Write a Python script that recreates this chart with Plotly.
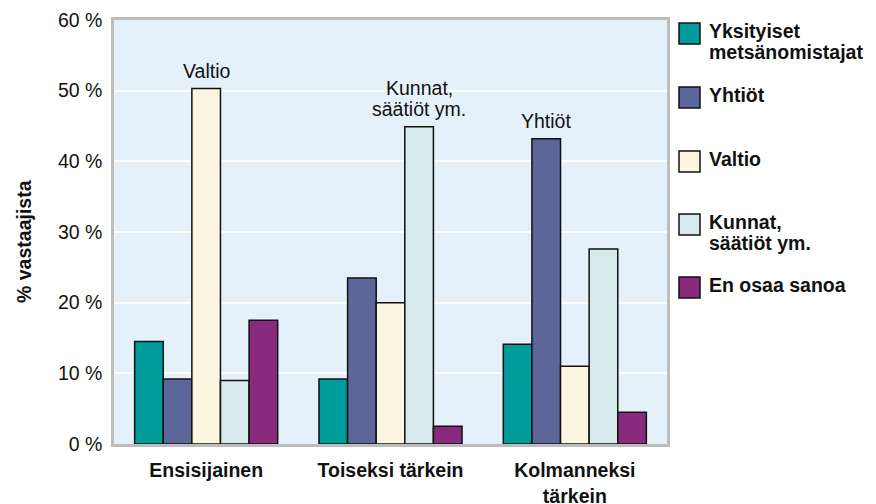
import plotly.graph_objects as go

categories = ["Ensisijainen", "Toiseksi tärkein", "Kolmanneksi<br>tärkein"]
series_names = ["Yksityiset<br>metsänomistajat", "Yhtiöt", "Valtio", "Kunnat,<br>säätiöt ym.", "En osaa sanoa"]
values = {
    "Yksityiset<br>metsänomistajat": [14.5, 9.2, 14.1],
    "Yhtiöt": [9.2, 23.5, 43.2],
    "Valtio": [50.3, 20.0, 11.0],
    "Kunnat,<br>säätiöt ym.": [9.0, 44.9, 27.6],
    "En osaa sanoa": [17.5, 2.5, 4.5],
}
colors = ["#009B9B", "#5C6699", "#FCF6E1", "#D6EAEB", "#8A2A7E"]
top_labels = ["Valtio", "Kunnat,<br>säätiöt ym.", "Yhtiöt"]
top_label_series = ["Valtio", "Kunnat,<br>säätiöt ym.", "Yhtiöt"]
y_ticks = [0, 10, 20, 30, 40, 50, 60]
y_tick_text = ["0 %", "10 %", "20 %", "30 %", "40 %", "50 %", "60 %"]
y_title = "% vastaajista"

FONT = "Liberation Sans, Arial, sans-serif"
FS = 19.5
W, H = 876, 504
L, R, T, B = 114, 209, 20, 60
pw, ph = W - L - R, H - T - B
PITCH = 21

fig = go.Figure()
for name, col in zip(series_names, colors):
    fig.add_trace(go.Bar(
        x=categories, y=values[name], name=name,
        marker=dict(color=col, line=dict(color="#111111", width=1.5)),
        showlegend=False,
    ))

# labels above the tallest bar of each group
n = len(series_names)
gap = 0.224
for ci, (lab, sname) in enumerate(zip(top_labels, top_label_series)):
    si = series_names.index(sname)
    offset = -(1 - gap) / 2 + (1 - gap) / n * (si + 0.5)
    lines = lab.split("<br>")
    for li, line in enumerate(lines):
        fig.add_annotation(
            x=ci + offset, y=values[sname][ci], xref="x", yref="y",
            text=line, showarrow=False, yanchor="bottom",
            yshift=5 + PITCH * (len(lines) - 1 - li),
            font=dict(family=FONT, size=FS, color="#111111"),
        )

# custom legend with larger swatches
def px_x(p):
    return (p - L) / pw

def px_y(p):
    return (H - B - p) / ph

sq_tops = [23, 87, 151, 214, 277]
for name, col, top in zip(series_names, colors, sq_tops):
    fig.add_shape(type="rect", xref="paper", yref="paper",
                  x0=px_x(679), x1=px_x(700), y0=px_y(top), y1=px_y(top + 21),
                  fillcolor=col, line=dict(color="#111111", width=1.5))
    for li, line in enumerate(name.split("<br>")):
        fig.add_annotation(xref="paper", yref="paper", x=px_x(707),
                           y=px_y(top - 5 + PITCH * li),
                           xanchor="left", yanchor="top", align="left", showarrow=False,
                           text="<b>" + line + "</b>",
                           font=dict(family=FONT, size=FS, color="#111111"))

# y-axis title
fig.add_annotation(xref="paper", yref="paper", x=px_x(24), y=px_y(242),
                   xanchor="center", yanchor="middle", textangle=-90, showarrow=False,
                   text="<b>" + y_title + "</b>",
                   font=dict(family=FONT, size=FS, color="#111111"))

fig.update_layout(
    width=W, height=H,
    margin=dict(l=L, r=R, t=T, b=B, autoexpand=False),
    paper_bgcolor="white", plot_bgcolor="#E4F1FB",
    barmode="group", bargap=gap, bargroupgap=0,
    font=dict(family=FONT, size=FS, color="#111111"),
)
fig.update_xaxes(
    showline=True, linecolor="#BDBDBD", linewidth=2.5, mirror=True,
    tickfont=dict(family=FONT, size=FS, color="#111111", weight="bold"),
    ticks="", ticklabelstandoff=7, automargin=False,
    showgrid=False,
)
fig.update_yaxes(
    range=[0, 60], tickvals=y_ticks, ticktext=y_tick_text,
    showline=True, linecolor="#BDBDBD", linewidth=2.5, mirror=True,
    gridcolor="white", gridwidth=2, zeroline=False,
    tickfont=dict(family=FONT, size=FS, color="#111111"),
    ticks="", ticklabelstandoff=5, automargin=False,
)
fig.write_html("out.html", config={"displayModeBar": False},
               post_script="document.body.style.margin='0';document.body.style.overflow='hidden';")
